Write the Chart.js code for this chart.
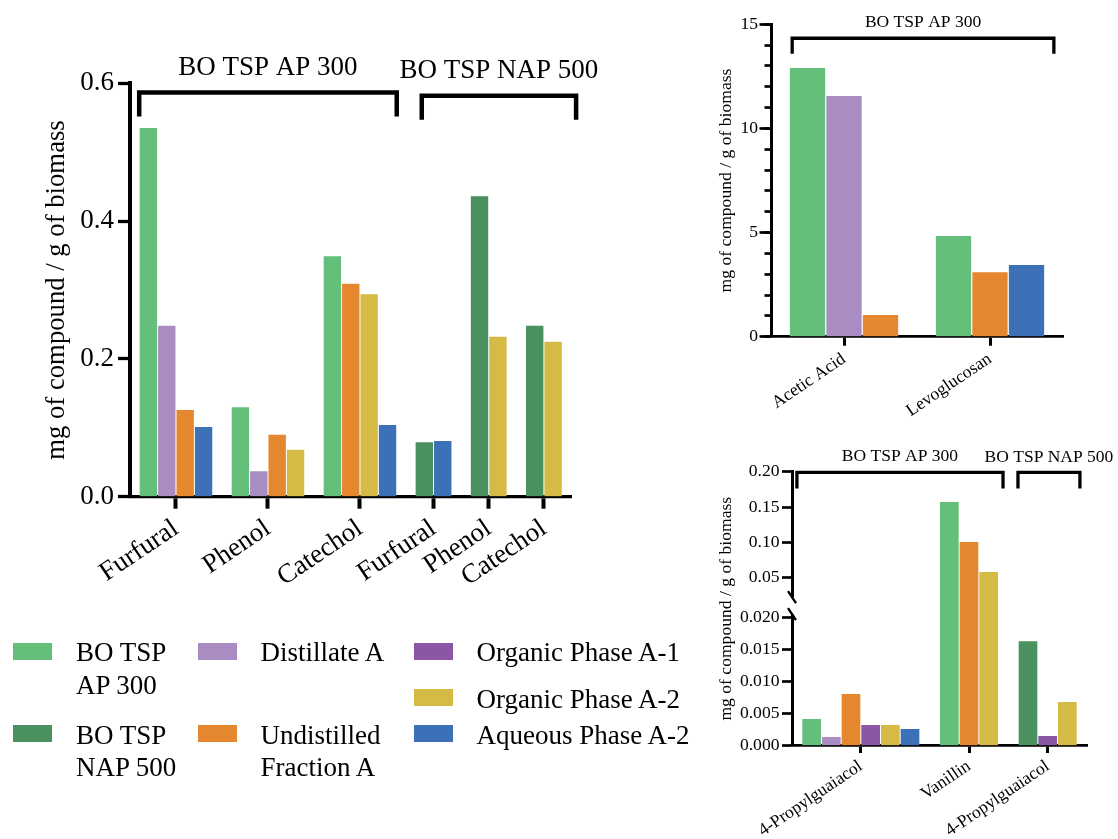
<!DOCTYPE html>
<html>
<head>
<meta charset="utf-8">
<title>Compound yields per g of biomass</title>
<script src="https://cdn.jsdelivr.net/npm/chart.js@4.4.1/dist/chart.umd.min.js"></script>
<style>
  html, body { margin: 0; padding: 0; background: #fff; }
  #page { position: relative; width: 1118px; height: 839px; overflow: hidden;
          font-family: "Liberation Serif", "Times New Roman", serif; }
  .panel { position: absolute; }
  #legend { position: absolute; left: 0; top: 0; width: 700px; height: 839px; }
  .swatch { position: absolute; width: 39px; height: 17px; }
  .label { position: absolute; font-size: 27px; line-height: 32.5px; color: #000; }
</style>
</head>
<body>
<div id="page">
  <div class="panel" style="left:0;top:0"><canvas id="mainChart" width="640" height="600"></canvas></div>
  <div class="panel" style="left:700px;top:0"><canvas id="acidChart" width="418" height="420"></canvas></div>
  <div class="panel" style="left:700px;top:430px"><canvas id="guaiacolChart" width="418" height="409"></canvas></div>
  <div id="legend"></div>
</div>
<script>
// series, in the order the bars appear inside each group
const seriesNames = ['BO TSP AP 300', 'BO TSP NAP 500', 'Distillate A', 'Undistilled Fraction A',
                     'Organic Phase A-1', 'Organic Phase A-2', 'Aqueous Phase A-2'];
const seriesColors = ['#63BF7A', '#4A915F', '#A98DC2', '#E5872F', '#8B57A4', '#D5BB46', '#3D71B7'];

// left panel (null = not found in that fraction)
const mainCategories = ['Furfural', 'Phenol', 'Catechol', 'Furfural', 'Phenol', 'Catechol'];
const mainValues = [
  [0.535, 0.130, 0.349, null, null, null],
  [null, null, null, 0.079, 0.436, 0.248],
  [0.248, 0.037, null, null, null, null],
  [0.126, 0.090, 0.309, null, null, null],
  [null, null, null, null, null, null],
  [null, 0.068, 0.294, null, 0.232, 0.225],
  [0.101, null, 0.104, 0.081, null, null]
];
const mainTicks = [0, 0.2, 0.4, 0.6];

// top right panel
const acidCategories = ['Acetic Acid', 'Levoglucosan'];
const acidValues = [
  [12.9, 4.83],
  [null, null],
  [11.56, null],
  [1.04, 3.1],
  [null, null],
  [null, null],
  [null, 3.44]
];
const acidTicks = [0, 5, 10, 15];
const acidMinorTicks = [0, 1, 2, 3, 4, 5, 6, 7, 8, 9, 10, 11, 12, 13, 14, 15];

// bottom right panel (broken y axis)
const guaiacolCategories = ['4-Propylguaiacol', 'Vanillin', '4-Propylguaiacol'];
const guaiacolValues = [
  [0.00416, 0.157, null],
  [null, null, 0.0163],
  [0.00135, null, null],
  [0.00805, 0.1005, null],
  [0.00322, null, 0.0015],
  [0.00322, 0.058, 0.0068],
  [0.0026, null, null]
];
const guaiacolTicks = [0, 0.005, 0.010, 0.015, 0.020, 0.05, 0.10, 0.15, 0.20];

const serif = '"Liberation Serif", "Times New Roman", serif';
Chart.defaults.font.family = serif;
Chart.defaults.color = '#000';

// linear scale with a compressed gap between two linear segments
class BrokenLinearScale extends Chart.LinearScale {
  static id = 'brokenLinear';
  static defaults = Chart.LinearScale.defaults;
  toDecimal(v) {
    const b = this.options.brk;
    if (v <= b.low) return (v - this.min) / (b.low - this.min) * b.lowFrac;
    if (v <= b.high) return b.lowFrac + (v - b.low) / (b.high - b.low) * (b.highFrac - b.lowFrac);
    return b.highFrac + (v - b.high) / (this.max - b.high) * (1 - b.highFrac);
  }
  getPixelForValue(value) {
    if (value === null || isNaN(value)) return NaN;
    return this.getPixelForDecimal(this.toDecimal(value));
  }
  getValueForPixel(pixel) {
    const b = this.options.brk;
    const d = this.getDecimalForPixel(pixel);
    if (d <= b.lowFrac) return this.min + d / b.lowFrac * (b.low - this.min);
    if (d <= b.highFrac) return b.low + (d - b.lowFrac) / (b.highFrac - b.lowFrac) * (b.high - b.low);
    return b.high + (d - b.highFrac) / (1 - b.highFrac) * (this.max - b.high);
  }
}
Chart.register(BrokenLinearScale);

// one slot per drawn bar, one empty slot between groups
function buildSlots(values) {
  const points = values.map(() => []);
  const centers = [];
  let slot = 0;
  for (let c = 0; c < values[0].length; c++) {
    const first = slot;
    values.forEach((row, s) => {
      if (row[c] !== null) { points[s].push({ x: slot, y: row[c] }); slot++; }
    });
    centers.push((first + slot - 1) / 2);
    slot++;
  }
  return { points, centers, last: slot - 2 };
}

function bracketPlugin(b) {
  return {
    id: 'brackets',
    afterDatasetsDraw(chart) {
      const { ctx } = chart;
      const x = chart.scales.x, y = chart.scales.y;
      ctx.save();
      ctx.strokeStyle = '#000';
      ctx.fillStyle = '#000';
      ctx.lineWidth = b.lineWidth;
      ctx.font = b.fontSize + 'px ' + serif;
      ctx.textAlign = 'center';
      ctx.textBaseline = 'alphabetic';
      b.items.forEach(it => {
        const x1 = x.getPixelForValue(it.from), x2 = x.getPixelForValue(it.to);
        const yl = y.getPixelForValue(it.at);
        ctx.beginPath();
        ctx.moveTo(x1, yl + b.leg);
        ctx.lineTo(x1, yl);
        ctx.lineTo(x2, yl);
        ctx.lineTo(x2, yl + b.leg);
        ctx.stroke();
        ctx.fillText(it.label, (x1 + x2) / 2, yl - it.gap);
      });
      ctx.restore();
    }
  };
}

function axisBreakPlugin() {
  return {
    id: 'axisBreak',
    afterDraw(chart) {
      const { ctx } = chart;
      const y = chart.scales.y;
      const brk = y.options.brk;
      const x0 = chart.chartArea.left;
      const yTop = y.getPixelForValue(brk.high), yBot = y.getPixelForValue(brk.low);
      ctx.save();
      ctx.fillStyle = '#fff';
      ctx.fillRect(x0 - 5, yTop, 10, yBot - yTop);
      ctx.strokeStyle = '#000';
      ctx.lineWidth = 2.4;
      [yTop, yBot].forEach(py => {
        ctx.beginPath();
        ctx.moveTo(x0 - 4, py - 6);
        ctx.lineTo(x0 + 4, py + 6);
        ctx.stroke();
      });
      ctx.restore();
    }
  };
}

function makeChart(id, o) {
  const slots = buildSlots(o.values);
  const datasets = seriesNames.map((name, s) => ({
    label: name,
    data: slots.points[s],
    backgroundColor: seriesColors[s],
    borderWidth: 0,
    grouped: false,
    barPercentage: o.barPct,
    categoryPercentage: 1
  })).filter(d => d.data.length > 0);

  const scales = {
    x: {
      type: 'linear',
      min: -1,
      max: slots.last + 1,
      offset: false,
      afterBuildTicks: s => { s.ticks = slots.centers.map(v => ({ value: v })); },
      afterFit: s => { s.height = o.height - o.area.bottom; },
      grid: { drawOnChartArea: false, offset: false, tickLength: o.xTickLen, tickWidth: o.xTickWidth, tickColor: '#000' },
      border: { display: true, color: '#000', width: o.xBorder },
      ticks: {
        autoSkip: false, maxRotation: o.rot, minRotation: o.rot, padding: o.xPad,
        font: { size: o.xFont }, color: '#000',
        callback: (v, i) => o.categories[i]
      }
    },
    y: {
      type: o.yType || 'linear',
      position: 'left',
      weight: 1,
      min: o.yMin,
      max: o.yMax,
      afterBuildTicks: s => { s.ticks = o.ticks.map(v => ({ value: v })); },
      afterFit: s => { s.width = o.area.left; },
      title: {
        display: true, text: 'mg of compound / g of biomass', color: '#000',
        font: { size: o.titleFont }, padding: { top: o.titlePad, bottom: 0 }
      },
      grid: { drawOnChartArea: false, offset: false, tickLength: o.yTickLen, tickWidth: o.yTickWidth, tickColor: '#000' },
      border: { display: true, color: '#000', width: o.yBorder },
      ticks: { autoSkip: false, padding: o.yPad, font: { size: o.yFont }, color: '#000', callback: o.tickFormat }
    }
  };
  if (o.brk) scales.y.brk = o.brk;
  if (o.minorTicks) {
    // zero-width inner axis that only carries the short unlabelled ticks
    scales.yMinor = {
      type: 'linear',
      position: 'left',
      weight: 0,
      min: o.yMin,
      max: o.yMax,
      afterBuildTicks: s => { s.ticks = o.minorTicks.map(v => ({ value: v })); },
      afterFit: s => { s.width = 0; },
      grid: { drawOnChartArea: false, offset: false, tickLength: o.minorTickLen, tickWidth: o.yTickWidth, tickColor: '#000' },
      border: { display: false },
      ticks: { display: false, autoSkip: false }
    };
  }

  const plugins = [bracketPlugin(o.brackets)];
  if (o.brk) plugins.push(axisBreakPlugin());

  return new Chart(document.getElementById(id), {
    type: 'bar',
    data: { datasets },
    options: {
      responsive: false,
      animation: false,
      layout: { padding: { left: 0, top: o.area.top, right: o.width - o.area.right, bottom: 0 } },
      plugins: { legend: { display: false }, tooltip: { enabled: false } },
      scales
    },
    plugins
  });
}

// legend, three columns as in the figure
const legendCols = [13.4, 198, 414];
const legendTextWidth = [115, 135, null];
const legendPlaces = [[0, 636.4], [0, 718.9], [1, 636.4], [1, 718.9], [2, 636.4], [2, 682.7], [2, 718.9]];
const legendEl = document.getElementById('legend');
seriesNames.forEach((name, s) => {
  const [col, top] = legendPlaces[s];
  const sw = document.createElement('div');
  sw.className = 'swatch';
  sw.style.left = legendCols[col] + 'px';
  sw.style.top = (top + 6.5) + 'px';
  sw.style.background = seriesColors[s];
  legendEl.appendChild(sw);
  const lb = document.createElement('div');
  lb.className = 'label';
  lb.style.left = (legendCols[col] + 62.5) + 'px';
  lb.style.top = top + 'px';
  if (legendTextWidth[col]) lb.style.width = legendTextWidth[col] + 'px';
  else lb.style.whiteSpace = 'nowrap';
  lb.textContent = name;
  legendEl.appendChild(lb);
});

const charts = [];
function drawAll() {
  charts.push(makeChart('mainChart', {
    values: mainValues, categories: mainCategories, ticks: mainTicks,
    tickFormat: v => Number(v).toFixed(1),
    width: 640, height: 600, area: { left: 130, right: 571.5, top: 83.3, bottom: 496.7 },
    barPct: 0.945, rot: 34, xFont: 27, yFont: 27, titleFont: 26.7, titlePad: 41,
    yTickLen: 12, yTickWidth: 3.3, yBorder: 4, yPad: 4,
    xTickLen: 12, xTickWidth: 4, xBorder: 3.3, xPad: 4,
    yMin: 0, yMax: 0.6,
    brackets: {
      lineWidth: 4.5, leg: 24, fontSize: 27,
      items: [
        { from: -0.5, to: 13.5, at: 0.5866, gap: 17.5, label: seriesNames[0] },
        { from: 14.86, to: 23.25, at: 0.5818, gap: 17.5, label: seriesNames[1] }
      ]
    }
  }));

  charts.push(makeChart('acidChart', {
    values: acidValues, categories: acidCategories, ticks: acidTicks, minorTicks: acidMinorTicks,
    tickFormat: v => String(v),
    width: 418, height: 420, area: { left: 71, right: 363, top: 24.3, bottom: 336.7 },
    barPct: 0.967, rot: 34, xFont: 17.6, yFont: 17.6, titleFont: 17.6, titlePad: 16,
    yTickLen: 11.5, minorTickLen: 6.5, yTickWidth: 2.7, yBorder: 3, yPad: 1.5,
    xTickLen: 9, xTickWidth: 3, xBorder: 2.7, xPad: 3,
    yMin: 0, yMax: 15,
    brackets: {
      lineWidth: 3.3, leg: 15.5, fontSize: 17.5,
      items: [{ from: -0.42, to: 6.75, at: 14.33, gap: 11.6, label: seriesNames[0] }]
    }
  }));

  charts.push(makeChart('guaiacolChart', {
    values: guaiacolValues, categories: guaiacolCategories, ticks: guaiacolTicks,
    tickFormat: v => (v < 0.03 ? Number(v).toFixed(3) : Number(v).toFixed(2)),
    width: 418, height: 409, area: { left: 92, right: 387, top: 41.7, bottom: 315.7 },
    barPct: 0.95, rot: 34, xFont: 17.6, yFont: 17.6, titleFont: 17.6, titlePad: 16,
    yTickLen: 10, yTickWidth: 2.7, yBorder: 3, yPad: 2.5,
    xTickLen: 7.3, xTickWidth: 3, xBorder: 2.7, xPad: 3,
    yMin: 0, yMax: 0.2, yType: 'brokenLinear',
    brk: { low: 0.0205, high: 0.0225, lowFrac: 0.480, highFrac: 0.542 },
    brackets: {
      lineWidth: 3.3, leg: 16, fontSize: 17.5,
      items: [
        { from: -0.75, to: 9.73, at: 0.199, gap: 11.3, label: seriesNames[0] },
        { from: 10.49, to: 13.64, at: 0.199, gap: 10, label: seriesNames[1] }
      ]
    }
  }));
}

drawAll();
// canvas text falls back to another face until the serif font is loaded, so redraw once it is
document.fonts.load('27px "Liberation Serif"').then(() => {
  charts.forEach(c => c.update());
});
</script>
</body>
</html>
